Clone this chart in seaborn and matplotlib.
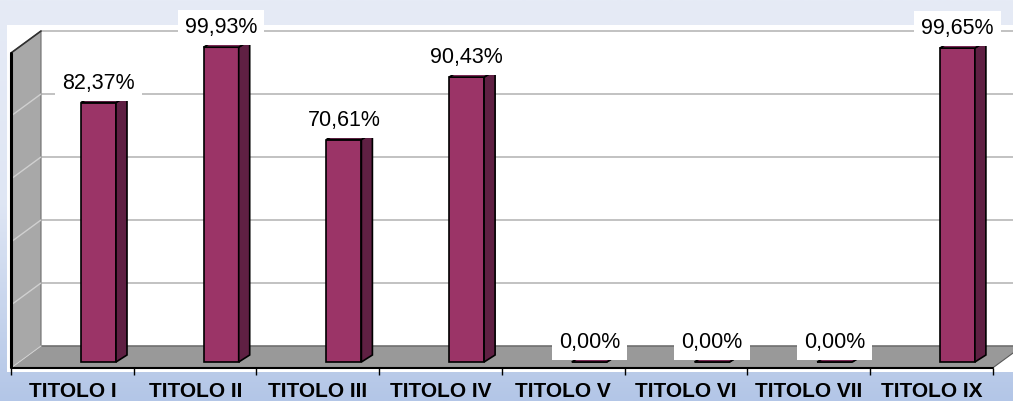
import numpy as np
import pandas as pd
import matplotlib
matplotlib.use("Agg")
import matplotlib.pyplot as plt
import seaborn as sns
from matplotlib.patches import Polygon, Rectangle
from matplotlib.colors import LinearSegmentedColormap

# ---------------- data ----------------
categories = ["TITOLO I", "TITOLO II", "TITOLO III", "TITOLO IV",
              "TITOLO V", "TITOLO VI", "TITOLO VII", "TITOLO IX"]
values = [82.37, 99.93, 70.61, 90.43, 0.00, 0.00, 0.00, 99.65]
value_labels = ["82,37%", "99,93%", "70,61%", "90,43%",
                "0,00%", "0,00%", "0,00%", "99,65%"]
grid_values = [0, 20, 40, 60, 80, 100]

# ---------------- style ----------------
sns.set_theme(style="white")
plt.rcParams["font.family"] = ["Liberation Sans", "DejaVu Sans"]

W, H, DPI = 1013, 401, 100
fig = plt.figure(figsize=(W / DPI, H / DPI), dpi=DPI)

# background gradient
bg = fig.add_axes([0, 0, 1, 1], zorder=-10)
cmap = LinearSegmentedColormap.from_list("bg", ["#e6ebf6", "#dfe6f4", "#b3c6e7"])
grad = np.linspace(0, 1, 256).reshape(-1, 1)
bg.imshow(grad, aspect="auto", cmap=cmap, extent=[0, 1, 0, 1], origin="upper")
bg.set_axis_off()

# pixel geometry of the plotting frame
SX = 122.7          # px per category
SY = 3.15           # px per percent unit
X0PX = 98.5         # px of first bar centre
Y0PX = 362.0        # px of zero on front plane
FLOOR_PY = 368.0    # front edge of floor in px

ax_bottom = (H - FLOOR_PY) / H
ax = fig.add_axes([0, ax_bottom, 1, FLOOR_PY / H], zorder=1)
ax.set_facecolor("none")

xlim = ((0 - X0PX) / SX, (W - X0PX) / SX)
ylim = ((Y0PX - FLOOR_PY) / SY, Y0PX / SY)

# depth offsets (data units)
full_dx, full_dy = 30 / SX, 22 / SY         # floor front -> back wall
bar_dx, bar_dy = 11 / SX, 7 / SY            # bar depth
label_shift = 26 / SX                        # label centre vs bar centre

xf0 = (11 - X0PX) / SX                       # left wall front x
xf1 = xf0 + len(categories)                  # floor front right x
yf = ylim[0]                                 # floor front y
yb = yf + full_dy                            # back wall base

# white chart area
ax.add_patch(Rectangle(((7 - X0PX) / SX, (Y0PX - 372) / SY),
                       (W - 7) / SX + 1, (372 - 25) / SY,
                       facecolor="white", edgecolor="none", zorder=0, clip_on=False))

# back wall gridlines
for g in grid_values:
    ax.plot([xf0 + full_dx, xlim[1] + 1], [yb + g, yb + g], color="#b8b8b8",
            lw=1.2, zorder=0.5, solid_capstyle="butt")

# floor
floor = Polygon([(xf0, yf), (xf0 + full_dx, yb), (xf1 + full_dx, yb), (xf1, yf)],
                closed=True, facecolor="#999999", edgecolor="#5a5a5a", lw=0.8, zorder=1)
ax.add_patch(floor)

# left wall
top = grid_values[-1]
wall = Polygon([(xf0, yf), (xf0, yf + top), (xf0 + full_dx, yb + top), (xf0 + full_dx, yb)],
               closed=True, facecolor="#a8a8a8", edgecolor="#6e6e6e", lw=0.8, zorder=1)
ax.add_patch(wall)
for g in grid_values[:-1]:
    ax.plot([xf0, xf0 + full_dx], [yf + g, yb + g], color="#d0d0d0", lw=1.0, zorder=1.1)
ax.plot([xf0, xf0 + full_dx], [yf + top, yb + top], color="#303030", lw=1.2, zorder=1.2)
ax.plot([xf0, xf0], [yf, yf + top], color="black", lw=2.2, zorder=1.2)
ax.plot([xf0, xf1], [yf, yf], color="black", lw=1.5, zorder=1.2, clip_on=False)

# bars
df = pd.DataFrame({"cat": categories, "val": values})
sns.barplot(data=df, x="cat", y="val", color="#9b3467", saturation=1,
            width=35 / SX, edgecolor="black", linewidth=1.2, ax=ax, zorder=3)

for p in list(ax.patches):
    if not isinstance(p, Rectangle) or p.get_width() > 1:
        continue
    if abs(p.get_width() - 35 / SX) > 1e-6:
        continue
    x0, y0 = p.get_x(), p.get_y()
    w, h = p.get_width(), p.get_height()
    side = Polygon([(x0 + w, y0), (x0 + w + bar_dx, y0 + bar_dy),
                    (x0 + w + bar_dx, y0 + h + bar_dy), (x0 + w, y0 + h)],
                   closed=True, facecolor="#5f2043", edgecolor="black", lw=1.2, zorder=3)
    topf = Polygon([(x0, y0 + h), (x0 + bar_dx, y0 + h + bar_dy),
                    (x0 + w + bar_dx, y0 + h + bar_dy), (x0 + w, y0 + h)],
                   closed=True, facecolor="#7b2a56", edgecolor="black", lw=1.2, zorder=3.1)
    ax.add_patch(side)
    ax.add_patch(topf)

# value labels
for i, (v, lab) in enumerate(zip(values, value_labels)):
    ax.text(i, v + 14 / SY, lab, ha="center", va="baseline", fontsize=15.5,
            color="black", zorder=6,
            bbox=dict(facecolor="white", edgecolor="none", boxstyle="square,pad=0.33"))

# axes / ticks
ax.set_xlim(*xlim)
ax.set_ylim(*ylim)
ax.set_xticks([i - label_shift for i in range(len(categories))])
ax.set_xticklabels(categories, fontsize=15, fontweight="bold", color="black")
ax.set_xticks([xf0 + k for k in range(len(categories) + 1)], minor=True)
ax.tick_params(axis="x", which="major", length=0, pad=10)
ax.tick_params(axis="x", which="minor", length=5, width=1, color="black", bottom=True)
ax.set_yticks([])
ax.set_xlabel("")
ax.set_ylabel("")
for s in ax.spines.values():
    s.set_visible(False)

fig.savefig("out.png", dpi=DPI)
